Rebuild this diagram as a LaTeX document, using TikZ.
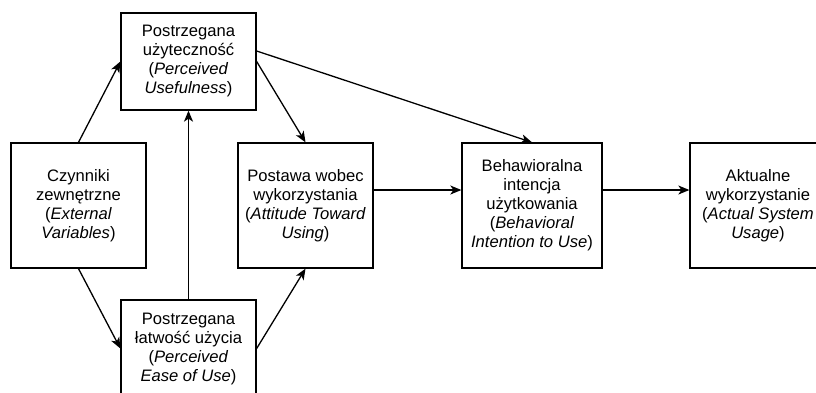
\documentclass[tikz,border=0pt]{standalone}
\usepackage{fontspec}
\setmainfont{Liberation Sans}
\usetikzlibrary{arrows.meta,calc}
\begin{document}
\begin{tikzpicture}[x=1pt,y=-1pt,
  box/.style={draw,line width=1.3pt,align=center,inner sep=0pt,
    font=\fontsize{16.6}{19}\selectfont},
  std/.style={box,minimum width=135pt,minimum height=125pt},
  short/.style={box,minimum width=135pt,minimum height=97pt},
  conn/.style={line width=1.3pt,-{Stealth[length=11pt,width=9pt,inset=3pt]}}]
\useasboundingbox (0,0) rectangle (816,392);
\clip (0,0) rectangle (816,392);
\fill[white] (0,0) rectangle (816,392);
\node[short] (pu) at (188.5,61.5) {Postrzegana\\użyteczność\\(\textit{Perceived}\\\textit{Usefulness})};
\node[std] (ev) at (78.5,205.5) {Czynniki\\zewnętrzne\\(\textit{External}\\\textit{Variables})};
\node[std] (atu) at (305.5,205.5) {Postawa wobec\\wykorzystania\\(\textit{Attitude Toward}\\\textit{Using})};
\node[short] (peou) at (188.5,348.5) {Postrzegana\\łatwość użycia\\(\textit{Perceived}\\\textit{Ease of Use})};
\node[std,minimum width=140pt] (bi) at (532,205.5) {Behawioralna\\intencja\\użytkowania\\(\textit{Behavioral}\\\textit{Intention to Use})};
\node[std,minimum width=136pt] (asu) at (758,205.5) {Aktualne\\wykorzystanie\\(\textit{Actual System}\\\textit{Usage})};
\draw[conn] (ev.north) -- (pu.west);
\draw[conn] (ev.south) -- (peou.west);
\draw[conn] (peou.north) -- (pu.south);
\draw[conn] (pu.east) -- (atu.north);
\draw[conn] ($(pu.east)+(0,-10.5)$) -- (bi.north);
\draw[conn] (peou.east) -- (atu.south);
\draw[conn] ($(atu.east)+(0,-15.5)$) -- ($(bi.west)+(0,-15.5)$);
\draw[conn] ($(bi.east)+(0,-15.5)$) -- ($(asu.west)+(0,-15.5)$);
\end{tikzpicture}
\end{document}
